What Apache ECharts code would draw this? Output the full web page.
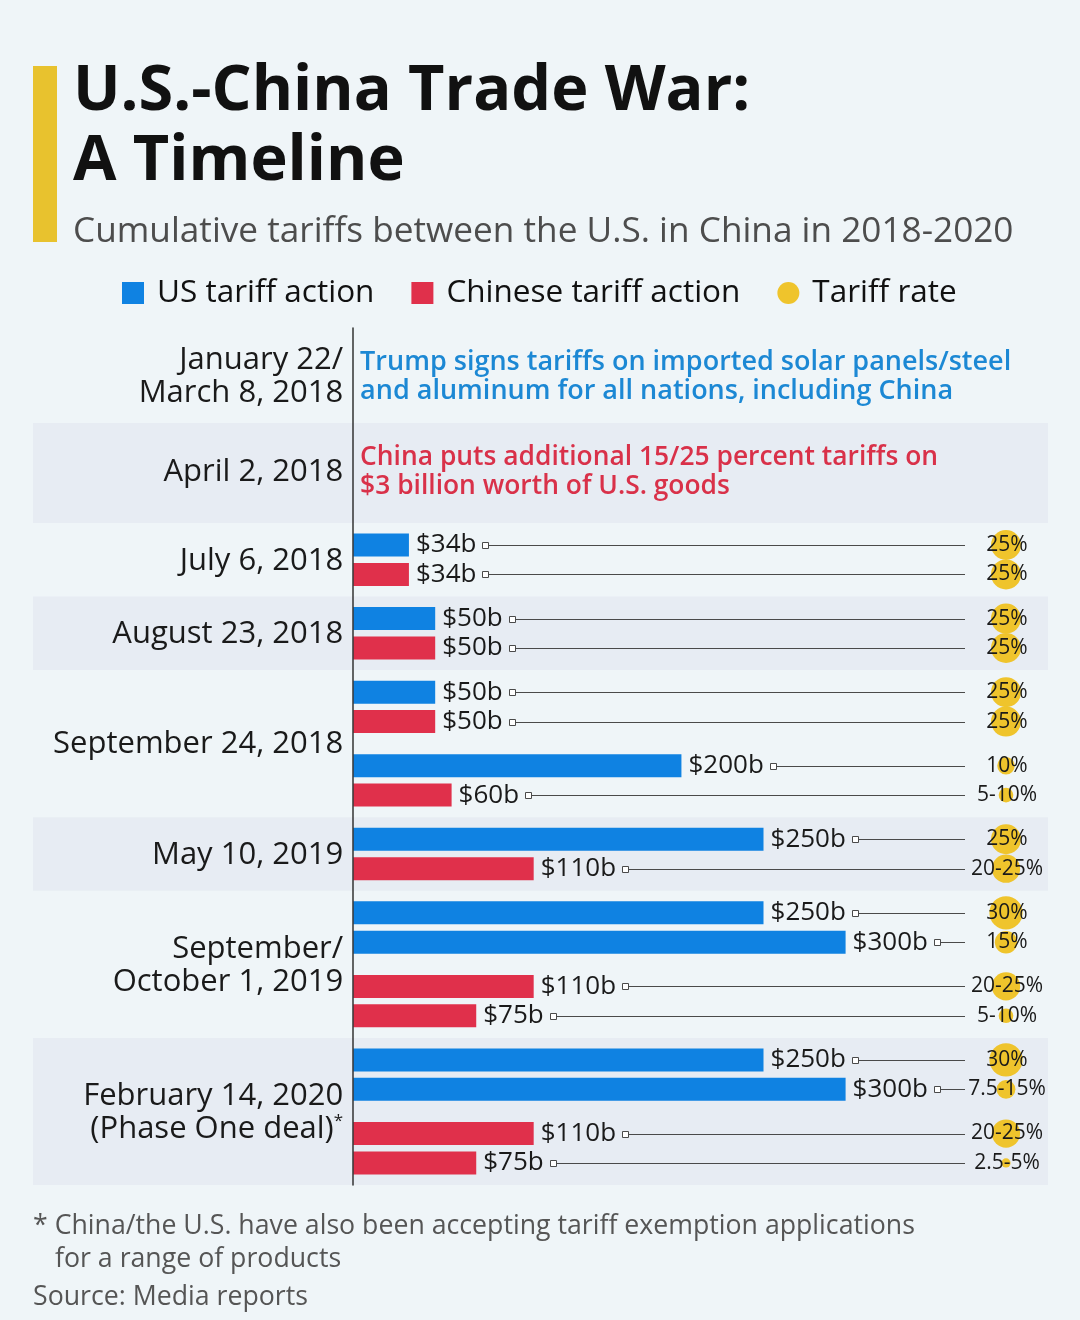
<!DOCTYPE html>
<html><head><meta charset="utf-8">
<script src="https://cdn.jsdelivr.net/npm/echarts@6/dist/echarts.min.js"></script>
<style>html,body{margin:0;padding:0;background:#eff5f8}#c{width:1080px;height:1320px}</style>
</head><body><div id="c"></div>
<script>
// ---------- data ----------
const dateLabels = [
  'January 22/\nMarch 8, 2018',
  'April 2, 2018',
  'July 6, 2018',
  'August 23, 2018',
  'September 24, 2018',
  'May 10, 2019',
  'September/\nOctober 1, 2019',
  'February 14, 2020\n(Phase One deal){sup|*}'
];
const noteTexts = [
  'Trump signs tariffs on imported solar panels/steel\nand aluminum for all nations, including China',
  'China puts additional 15/25 percent tariffs on\n$3 billion worth of U.S. goods'
];
const noteSides = ['US', 'CN'];
const actionGroup = [2,2,3,3,4,4,4,4,5,5,6,6,6,6,7,7,7,7];
const actionSide  = ['US','CN','US','CN','US','CN','US','CN','US','CN','US','US','CN','CN','US','US','CN','CN'];
const actionValue = [34,34,50,50,50,50,200,60,250,110,250,300,110,75,250,300,110,75];
const rateLabels  = ['25%','25%','25%','25%','25%','25%','10%','5-10%','25%','20-25%','30%','15%','20-25%','5-10%','30%','7.5-15%','20-25%','2.5-5%'];
const rateValues  = [25,25,25,25,25,25,10,7.5,25,22.5,30,15,22.5,7.5,30,11.25,22.5,3.75];
const legendNames = ['US tariff action', 'Chinese tariff action', 'Tariff rate'];

// ---------- layout helpers ----------
const FONT = '"Open Sans", "Noto Sans", sans-serif';
const COLORS = { US: '#0f82e2', CN: '#e0304b', RATE: '#efc42c' };
const Y_MIN = -14.75, Y_MAX = 43.5;
const textRowExtent = [[-14.75, -8.3], [-8.3, -1.5]];
const textRowCenter = [-11.5, -5.0];
const slot = actionValue.map((v, i) => Math.floor(i / 2) * 5 + (i % 2) * 2);
const groupExtent = dateLabels.map((d, g) => {
  if (g < textRowExtent.length) return textRowExtent[g];
  const s = slot.filter((x, i) => actionGroup[i] === g);
  return [Math.min(...s) - 1.5, Math.max(...s) + 1.5];
});
const groupCenter = dateLabels.map((d, g) => {
  if (g < textRowCenter.length) return textRowCenter[g];
  const s = slot.filter((x, i) => actionGroup[i] === g);
  return (Math.min(...s) + Math.max(...s)) / 2;
});
const bands = groupExtent.filter((e, g) => g % 2 === 1).map(e => [{ yAxis: e[0] }, { yAxis: e[1] }]);

const mctx = document.createElement('canvas').getContext('2d');
function textWidth(t, font) { mctx.font = font; return mctx.measureText(t).width; }

const VAL_FONT = '26px ' + FONT;
function renderBar(params, api) {
  const v = api.value(0), s = api.value(1);
  const side = actionSide[api.value(2)];
  const p0 = api.coord([0, s]), p1 = api.coord([v, s]);
  const cs = params.coordSys;
  const h = 23;
  const label = '$' + v + 'b';
  const tx = p1[0] + 7;
  const sqX = Math.round(tx + textWidth(label, VAL_FONT) + 6) + 0.5;
  const y = Math.round(p1[1]) + 0.5;
  const lineEnd = cs.x + cs.width - 83;
  return { type: 'group', children: [
    { type: 'rect', shape: { x: p0[0], y: p1[1] - h / 2, width: p1[0] - p0[0], height: h }, style: { fill: COLORS[side] } },
    { type: 'text', style: { x: tx, y: p1[1], text: label, font: VAL_FONT, fill: '#1a1a1a', align: 'left', verticalAlign: 'middle' } },
    { type: 'line', shape: { x1: sqX + 6, y1: y, x2: lineEnd, y2: y }, style: { stroke: '#4a4a4a', lineWidth: 1 } },
    { type: 'rect', shape: { x: sqX, y: y - 3, width: 6, height: 6 }, style: { fill: '#fff', stroke: '#4a4a4a', lineWidth: 1 } }
  ]};
}
function renderRate(params, api) {
  const r = api.value(0), s = api.value(1), i = api.value(2);
  const cs = params.coordSys;
  const cx = cs.x + cs.width - 42;
  const cy = api.coord([0, s])[1];
  const d = 6.8 * Math.sqrt(r) - 4;
  return { type: 'group', children: [
    { type: 'circle', shape: { cx: cx, cy: cy, r: d / 2 }, style: { fill: COLORS.RATE } },
    { type: 'text', style: { x: cx + 1, y: cy, text: rateLabels[i], font: '21px ' + FONT, fill: '#1a1a1a', align: 'center', verticalAlign: 'middle' } }
  ]};
}
function renderLabels(params, api) {
  const c = api.value(1), g = api.value(2);
  const p = api.coord([0, c]);
  const children = [{
    type: 'text',
    style: { x: p[0] - 10, y: p[1] + 1, text: dateLabels[g], font: '31px ' + FONT, fill: '#1a1a1a',
      align: 'right', verticalAlign: 'middle', lineHeight: 33,
      rich: { sup: { fontSize: 17, fontFamily: FONT, fill: '#1a1a1a', verticalAlign: 'top', lineHeight: 33, padding: [0, 0, 14, 0] } } }
  }];
  if (g < noteTexts.length) {
    const us = noteSides[g] === 'US';
    children.push({ type: 'text', style: { x: p[0] + 7, y: p[1] + 1, text: noteTexts[g], font: '600 ' + (us ? 27 : 26.4) + 'px ' + FONT,
      fill: us ? '#1c88d4' : '#d93149', align: 'left', verticalAlign: 'middle', lineHeight: 29 } });
  }
  return { type: 'group', children };
}

const usData = [], cnData = [];
actionValue.forEach((v, i) => { (actionSide[i] === 'US' ? usData : cnData).push([v, slot[i], i]); });
const rateData = rateValues.map((r, i) => [r, slot[i], i]);
const labelData = groupCenter.map((c, g) => [0, c, g]);

const chart = echarts.init(document.getElementById('c'), null, { renderer: 'canvas' });
chart.setOption({
  backgroundColor: '#eff5f8',
  animation: false,
  title: [
    { text: 'U.S.-China Trade War:\nA Timeline', left: 73, top: 57, padding: 0,
      textStyle: { fontFamily: FONT, fontSize: 63, fontWeight: 'bold', color: '#111', lineHeight: 70 } },
    { text: 'Cumulative tariffs between the U.S. in China in 2018-2020', left: 73, top: 212, padding: 0,
      textStyle: { fontFamily: FONT, fontSize: 35.2, fontWeight: 'normal', color: '#4d4d4d', lineHeight: 40 } }
  ],
  legend: {
    left: 122, top: 277, padding: 0, itemWidth: 22, itemHeight: 22, itemGap: 37, selectedMode: false,
    textStyle: { fontFamily: FONT, fontSize: 31.5, color: '#111', padding: [0, 0, 0, 8] },
    data: [
      { name: legendNames[0], icon: 'rect', itemStyle: { color: COLORS.US } },
      { name: legendNames[1], icon: 'rect', itemStyle: { color: COLORS.CN } },
      { name: legendNames[2], icon: 'circle', itemStyle: { color: COLORS.RATE } }
    ]
  },
  grid: { left: 33, width: 1015, top: 328, height: 857, containLabel: false },
  xAxis: { type: 'value', min: -195, max: 423.3, show: false },
  yAxis: { type: 'value', inverse: true, min: Y_MIN, max: Y_MAX, z: 3,
    axisLine: { show: true, onZero: true, lineStyle: { color: '#333', width: 1.5 } },
    axisTick: { show: false }, axisLabel: { show: false }, splitLine: { show: false } },
  graphic: [
    { type: 'rect', left: 33, top: 66, shape: { width: 24, height: 176 }, style: { fill: '#e8c22e' } },
    { type: 'text', left: 33, top: 1213, style: { text: '* China/the U.S. have also been accepting tariff exemption applications', font: '26.7px ' + FONT, fill: '#555' } },
    { type: 'text', left: 55, top: 1246, style: { text: 'for a range of products', font: '26.7px ' + FONT, fill: '#555' } },
    { type: 'text', left: 33, top: 1284, style: { text: 'Source: Media reports', font: '26.7px ' + FONT, fill: '#555' } }
  ],
  series: [
    { name: 'labels', type: 'custom', renderItem: renderLabels, data: labelData, z: 1, silent: true,
      markArea: { silent: true, itemStyle: { color: '#e7ecf3' }, label: { show: false }, data: bands } },
    { name: legendNames[0], type: 'custom', renderItem: renderBar, data: usData, z: 2, itemStyle: { color: COLORS.US } },
    { name: legendNames[1], type: 'custom', renderItem: renderBar, data: cnData, z: 2, itemStyle: { color: COLORS.CN } },
    { name: legendNames[2], type: 'custom', renderItem: renderRate, data: rateData, z: 2, itemStyle: { color: COLORS.RATE } }
  ]
});
</script></body></html>
